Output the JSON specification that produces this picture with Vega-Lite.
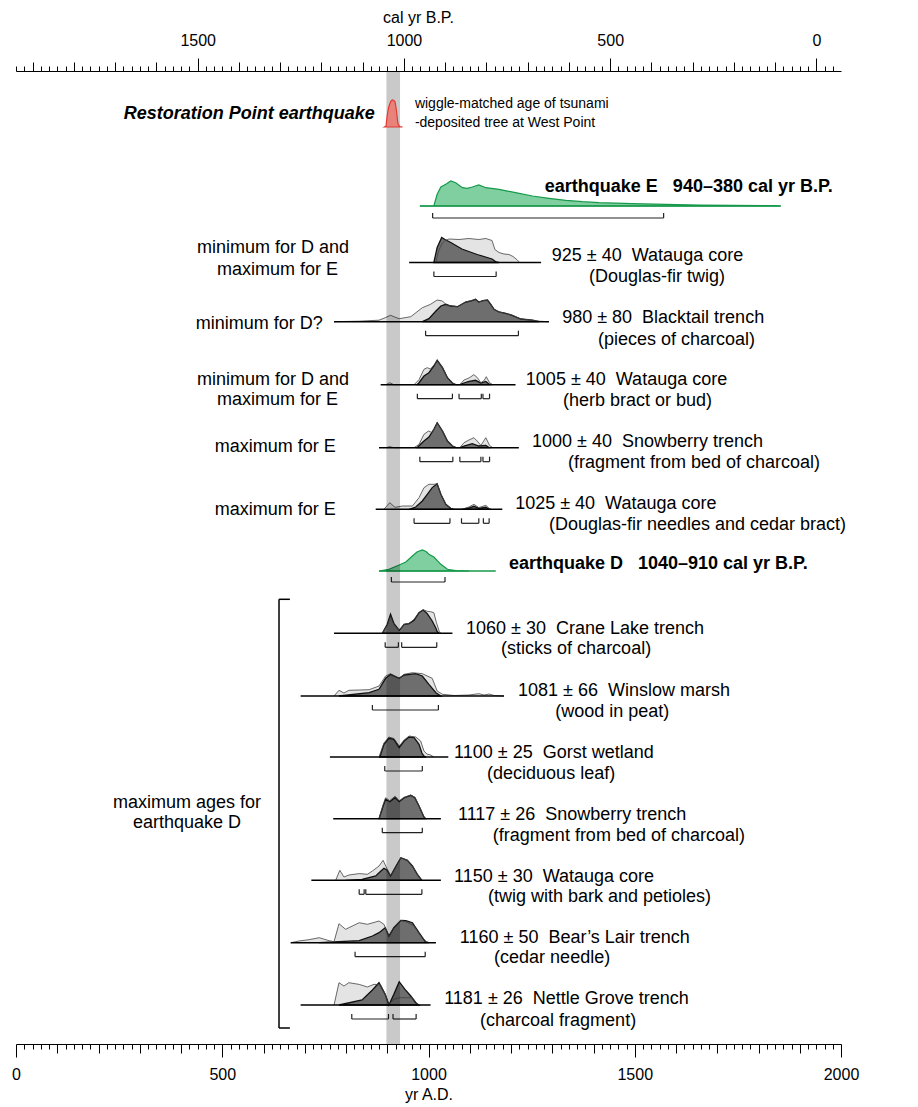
{
"$schema": "https://vega.github.io/schema/vega-lite/v6.json",
"background": "white",
"autosize": {"type": "pad"},
"padding": {"left": 11, "top": 9, "right": 5, "bottom": 2},
"spacing": 0,
"bounds": "flush",
"resolve": {"scale": {"x": "independent", "y": "independent"}},
"config": {
  "view": {"stroke": null},
  "text": {"font": "Liberation Sans", "fontSize": 18, "align": "left", "baseline": "middle", "color": "#000"}
},
"datasets": {
"curves": [
{"row":"R0","kind":"red","ad":893,"p":0},{"row":"R0","kind":"red","ad":897,"p":1},{"row":"R0","kind":"red","ad":900,"p":12},{"row":"R0","kind":"red","ad":903,"p":19},{"row":"R0","kind":"red","ad":906,"p":23},{"row":"R0","kind":"red","ad":909,"p":26},{"row":"R0","kind":"red","ad":912,"p":27},{"row":"R0","kind":"red","ad":916,"p":26.5},{"row":"R0","kind":"red","ad":919,"p":25},{"row":"R0","kind":"red","ad":921,"p":20},{"row":"R0","kind":"red","ad":923,"p":14},{"row":"R0","kind":"red","ad":925,"p":6},{"row":"R0","kind":"red","ad":927,"p":2},{"row":"R0","kind":"red","ad":930,"p":0.5},{"row":"R0","kind":"red","ad":937,"p":0},
{"row":"R1","kind":"green","ad":979,"p":0},{"row":"R1","kind":"green","ad":1013,"p":0},{"row":"R1","kind":"green","ad":1021,"p":11.7},{"row":"R1","kind":"green","ad":1030,"p":19},{"row":"R1","kind":"green","ad":1042,"p":21.7},{"row":"R1","kind":"green","ad":1054,"p":25},{"row":"R1","kind":"green","ad":1066,"p":23.3},{"row":"R1","kind":"green","ad":1082,"p":18.3},{"row":"R1","kind":"green","ad":1094,"p":17.7},{"row":"R1","kind":"green","ad":1106,"p":19},{"row":"R1","kind":"green","ad":1122,"p":21},{"row":"R1","kind":"green","ad":1139,"p":18.3},{"row":"R1","kind":"green","ad":1171,"p":16.7},{"row":"R1","kind":"green","ad":1211,"p":13.3},{"row":"R1","kind":"green","ad":1252,"p":10},{"row":"R1","kind":"green","ad":1292,"p":7.7},{"row":"R1","kind":"green","ad":1333,"p":5.7},{"row":"R1","kind":"green","ad":1373,"p":4.3},{"row":"R1","kind":"green","ad":1413,"p":3.3},{"row":"R1","kind":"green","ad":1494,"p":2.3},{"row":"R1","kind":"green","ad":1575,"p":1.7},{"row":"R1","kind":"green","ad":1656,"p":1},{"row":"R1","kind":"green","ad":1737,"p":0.7},{"row":"R1","kind":"green","ad":1838,"p":0.3},{"row":"R1","kind":"green","ad":1854,"p":0},
{"row":"R2","kind":"dark","ad":1013,"p":0},{"row":"R2","kind":"dark","ad":1021,"p":15},{"row":"R2","kind":"dark","ad":1032,"p":25},{"row":"R2","kind":"dark","ad":1040,"p":23},{"row":"R2","kind":"dark","ad":1054,"p":20},{"row":"R2","kind":"dark","ad":1081,"p":13.5},{"row":"R2","kind":"dark","ad":1118,"p":8},{"row":"R2","kind":"dark","ad":1154,"p":3.5},{"row":"R2","kind":"dark","ad":1164,"p":0.5},{"row":"R2","kind":"dark","ad":1171,"p":0},
{"row":"R2","kind":"light","ad":1018,"p":0},{"row":"R2","kind":"light","ad":1025,"p":12},{"row":"R2","kind":"light","ad":1033,"p":19},{"row":"R2","kind":"light","ad":1040,"p":22},{"row":"R2","kind":"light","ad":1050,"p":23.5},{"row":"R2","kind":"light","ad":1074,"p":23},{"row":"R2","kind":"light","ad":1098,"p":24},{"row":"R2","kind":"light","ad":1122,"p":23},{"row":"R2","kind":"light","ad":1139,"p":24},{"row":"R2","kind":"light","ad":1154,"p":22},{"row":"R2","kind":"light","ad":1161,"p":13},{"row":"R2","kind":"light","ad":1171,"p":10},{"row":"R2","kind":"light","ad":1183,"p":8.5},{"row":"R2","kind":"light","ad":1195,"p":8},{"row":"R2","kind":"light","ad":1205,"p":6},{"row":"R2","kind":"light","ad":1214,"p":3},{"row":"R2","kind":"light","ad":1221,"p":0},
{"row":"R3","kind":"light","ad":771,"p":0},{"row":"R3","kind":"light","ad":832,"p":0.5},{"row":"R3","kind":"light","ad":880,"p":1.5},{"row":"R3","kind":"light","ad":895,"p":4},{"row":"R3","kind":"light","ad":908,"p":6.4},{"row":"R3","kind":"light","ad":919,"p":4.5},{"row":"R3","kind":"light","ad":929,"p":3},{"row":"R3","kind":"light","ad":957,"p":5},{"row":"R3","kind":"light","ad":985,"p":14},{"row":"R3","kind":"light","ad":1005,"p":17.4},{"row":"R3","kind":"light","ad":1021,"p":21.7},{"row":"R3","kind":"light","ad":1034,"p":20.7},{"row":"R3","kind":"light","ad":1046,"p":15.7},{"row":"R3","kind":"light","ad":1054,"p":16},{"row":"R3","kind":"light","ad":1070,"p":15},{"row":"R3","kind":"light","ad":1090,"p":19.7},{"row":"R3","kind":"light","ad":1102,"p":20.7},{"row":"R3","kind":"light","ad":1114,"p":22.4},{"row":"R3","kind":"light","ad":1122,"p":19.7},{"row":"R3","kind":"light","ad":1132,"p":21},{"row":"R3","kind":"light","ad":1143,"p":21.7},{"row":"R3","kind":"light","ad":1151,"p":17.4},{"row":"R3","kind":"light","ad":1159,"p":12.4},{"row":"R3","kind":"light","ad":1171,"p":9.7},{"row":"R3","kind":"light","ad":1187,"p":8.4},{"row":"R3","kind":"light","ad":1203,"p":6.4},{"row":"R3","kind":"light","ad":1224,"p":2.7},{"row":"R3","kind":"light","ad":1252,"p":1.5},{"row":"R3","kind":"light","ad":1268,"p":0.5},{"row":"R3","kind":"light","ad":1292,"p":0},
{"row":"R3","kind":"dark","ad":985,"p":0},{"row":"R3","kind":"dark","ad":1001,"p":3},{"row":"R3","kind":"dark","ad":1018,"p":10.7},{"row":"R3","kind":"dark","ad":1030,"p":15.7},{"row":"R3","kind":"dark","ad":1042,"p":17.4},{"row":"R3","kind":"dark","ad":1054,"p":15.7},{"row":"R3","kind":"dark","ad":1070,"p":15},{"row":"R3","kind":"dark","ad":1090,"p":19.7},{"row":"R3","kind":"dark","ad":1102,"p":20.7},{"row":"R3","kind":"dark","ad":1114,"p":22.4},{"row":"R3","kind":"dark","ad":1122,"p":19.7},{"row":"R3","kind":"dark","ad":1132,"p":21},{"row":"R3","kind":"dark","ad":1143,"p":21.7},{"row":"R3","kind":"dark","ad":1151,"p":17.4},{"row":"R3","kind":"dark","ad":1159,"p":12.4},{"row":"R3","kind":"dark","ad":1171,"p":9.7},{"row":"R3","kind":"dark","ad":1187,"p":8.4},{"row":"R3","kind":"dark","ad":1203,"p":6.4},{"row":"R3","kind":"dark","ad":1224,"p":2.7},{"row":"R3","kind":"dark","ad":1252,"p":1.5},{"row":"R3","kind":"dark","ad":1268,"p":0},
{"row":"R4","kind":"light","ad":897,"p":0},{"row":"R4","kind":"light","ad":906,"p":2},{"row":"R4","kind":"light","ad":916,"p":0},{"row":"R4","kind":"light","ad":965,"p":0},{"row":"R4","kind":"light","ad":977,"p":5},{"row":"R4","kind":"light","ad":989,"p":15.4},{"row":"R4","kind":"light","ad":997,"p":17},{"row":"R4","kind":"light","ad":1005,"p":15.7},{"row":"R4","kind":"light","ad":1018,"p":22},{"row":"R4","kind":"light","ad":1021,"p":24.4},{"row":"R4","kind":"light","ad":1034,"p":17},{"row":"R4","kind":"light","ad":1046,"p":7},{"row":"R4","kind":"light","ad":1058,"p":1.7},{"row":"R4","kind":"light","ad":1066,"p":0},{"row":"R4","kind":"light","ad":1076,"p":0},{"row":"R4","kind":"light","ad":1086,"p":4.7},{"row":"R4","kind":"light","ad":1098,"p":6.7},{"row":"R4","kind":"light","ad":1110,"p":10},{"row":"R4","kind":"light","ad":1118,"p":7.3},{"row":"R4","kind":"light","ad":1127,"p":2},{"row":"R4","kind":"light","ad":1135,"p":4.3},{"row":"R4","kind":"light","ad":1140,"p":8},{"row":"R4","kind":"light","ad":1148,"p":2},{"row":"R4","kind":"light","ad":1156,"p":0},
{"row":"R4","kind":"dark","ad":972,"p":0},{"row":"R4","kind":"dark","ad":977,"p":2},{"row":"R4","kind":"dark","ad":989,"p":8.7},{"row":"R4","kind":"dark","ad":1001,"p":12},{"row":"R4","kind":"dark","ad":1013,"p":18.7},{"row":"R4","kind":"dark","ad":1021,"p":24.4},{"row":"R4","kind":"dark","ad":1034,"p":17},{"row":"R4","kind":"dark","ad":1046,"p":7},{"row":"R4","kind":"dark","ad":1058,"p":1.7},{"row":"R4","kind":"dark","ad":1066,"p":0},{"row":"R4","kind":"dark","ad":1076,"p":0},{"row":"R4","kind":"dark","ad":1086,"p":1.7},{"row":"R4","kind":"dark","ad":1098,"p":3.3},{"row":"R4","kind":"dark","ad":1114,"p":4.4},{"row":"R4","kind":"dark","ad":1127,"p":1.7},{"row":"R4","kind":"dark","ad":1139,"p":3.3},{"row":"R4","kind":"dark","ad":1147,"p":0.5},{"row":"R4","kind":"dark","ad":1152,"p":0},
{"row":"R5","kind":"light","ad":897,"p":0},{"row":"R5","kind":"light","ad":906,"p":1},{"row":"R5","kind":"light","ad":916,"p":0},{"row":"R5","kind":"light","ad":965,"p":0},{"row":"R5","kind":"light","ad":977,"p":3.3},{"row":"R5","kind":"light","ad":989,"p":13.4},{"row":"R5","kind":"light","ad":1000,"p":16.7},{"row":"R5","kind":"light","ad":1009,"p":15},{"row":"R5","kind":"light","ad":1018,"p":21.7},{"row":"R5","kind":"light","ad":1021,"p":25},{"row":"R5","kind":"light","ad":1034,"p":16.7},{"row":"R5","kind":"light","ad":1046,"p":6.7},{"row":"R5","kind":"light","ad":1058,"p":1.7},{"row":"R5","kind":"light","ad":1067,"p":0},{"row":"R5","kind":"light","ad":1076,"p":0},{"row":"R5","kind":"light","ad":1086,"p":5},{"row":"R5","kind":"light","ad":1098,"p":7.7},{"row":"R5","kind":"light","ad":1110,"p":10},{"row":"R5","kind":"light","ad":1118,"p":6.7},{"row":"R5","kind":"light","ad":1127,"p":2.3},{"row":"R5","kind":"light","ad":1139,"p":10},{"row":"R5","kind":"light","ad":1148,"p":2.3},{"row":"R5","kind":"light","ad":1156,"p":0},
{"row":"R5","kind":"dark","ad":972,"p":0},{"row":"R5","kind":"dark","ad":989,"p":6.7},{"row":"R5","kind":"dark","ad":1001,"p":10.7},{"row":"R5","kind":"dark","ad":1013,"p":18.4},{"row":"R5","kind":"dark","ad":1021,"p":25},{"row":"R5","kind":"dark","ad":1034,"p":16.7},{"row":"R5","kind":"dark","ad":1046,"p":6.7},{"row":"R5","kind":"dark","ad":1058,"p":1.7},{"row":"R5","kind":"dark","ad":1067,"p":0},{"row":"R5","kind":"dark","ad":1076,"p":0},{"row":"R5","kind":"dark","ad":1086,"p":1.7},{"row":"R5","kind":"dark","ad":1106,"p":4},{"row":"R5","kind":"dark","ad":1122,"p":1.7},{"row":"R5","kind":"dark","ad":1139,"p":2.3},{"row":"R5","kind":"dark","ad":1147,"p":0},
{"row":"R6","kind":"light","ad":892,"p":0},{"row":"R6","kind":"light","ad":906,"p":6.6},{"row":"R6","kind":"light","ad":919,"p":2},{"row":"R6","kind":"light","ad":937,"p":3.3},{"row":"R6","kind":"light","ad":961,"p":3.3},{"row":"R6","kind":"light","ad":977,"p":11.6},{"row":"R6","kind":"light","ad":989,"p":21.6},{"row":"R6","kind":"light","ad":1001,"p":25},{"row":"R6","kind":"light","ad":1013,"p":25},{"row":"R6","kind":"light","ad":1021,"p":25.6},{"row":"R6","kind":"light","ad":1030,"p":15},{"row":"R6","kind":"light","ad":1042,"p":5},{"row":"R6","kind":"light","ad":1054,"p":1},{"row":"R6","kind":"light","ad":1062,"p":0},{"row":"R6","kind":"light","ad":1081,"p":0},{"row":"R6","kind":"light","ad":1098,"p":2.3},{"row":"R6","kind":"light","ad":1110,"p":5},{"row":"R6","kind":"light","ad":1122,"p":1.7},{"row":"R6","kind":"light","ad":1139,"p":4},{"row":"R6","kind":"light","ad":1147,"p":1},{"row":"R6","kind":"light","ad":1152,"p":0},
{"row":"R6","kind":"dark","ad":953,"p":0},{"row":"R6","kind":"dark","ad":969,"p":2.3},{"row":"R6","kind":"dark","ad":985,"p":8.3},{"row":"R6","kind":"dark","ad":997,"p":15},{"row":"R6","kind":"dark","ad":1009,"p":21.7},{"row":"R6","kind":"dark","ad":1021,"p":25.6},{"row":"R6","kind":"dark","ad":1030,"p":15},{"row":"R6","kind":"dark","ad":1042,"p":5},{"row":"R6","kind":"dark","ad":1054,"p":1},{"row":"R6","kind":"dark","ad":1062,"p":0},{"row":"R6","kind":"dark","ad":1081,"p":0},{"row":"R6","kind":"dark","ad":1098,"p":1.3},{"row":"R6","kind":"dark","ad":1110,"p":3},{"row":"R6","kind":"dark","ad":1122,"p":1},{"row":"R6","kind":"dark","ad":1139,"p":2},{"row":"R6","kind":"dark","ad":1147,"p":0},
{"row":"R7","kind":"green","ad":880,"p":0},{"row":"R7","kind":"green","ad":904,"p":1.7},{"row":"R7","kind":"green","ad":929,"p":6},{"row":"R7","kind":"green","ad":945,"p":9},{"row":"R7","kind":"green","ad":961,"p":15},{"row":"R7","kind":"green","ad":972,"p":19},{"row":"R7","kind":"green","ad":985,"p":21},{"row":"R7","kind":"green","ad":994,"p":19.5},{"row":"R7","kind":"green","ad":1001,"p":16.7},{"row":"R7","kind":"green","ad":1013,"p":14},{"row":"R7","kind":"green","ad":1030,"p":6.7},{"row":"R7","kind":"green","ad":1046,"p":1.7},{"row":"R7","kind":"green","ad":1066,"p":0.3},{"row":"R7","kind":"green","ad":1098,"p":0},
{"row":"R8","kind":"dark","ad":888,"p":0},{"row":"R8","kind":"dark","ad":900,"p":9},{"row":"R8","kind":"dark","ad":908,"p":19},{"row":"R8","kind":"dark","ad":916,"p":10},{"row":"R8","kind":"dark","ad":929,"p":3},{"row":"R8","kind":"dark","ad":941,"p":9},{"row":"R8","kind":"dark","ad":953,"p":9.7},{"row":"R8","kind":"dark","ad":965,"p":13},{"row":"R8","kind":"dark","ad":977,"p":20.6},{"row":"R8","kind":"dark","ad":987,"p":23.3},{"row":"R8","kind":"dark","ad":997,"p":19.7},{"row":"R8","kind":"dark","ad":1009,"p":12.3},{"row":"R8","kind":"dark","ad":1018,"p":5},{"row":"R8","kind":"dark","ad":1021,"p":1.7},{"row":"R8","kind":"dark","ad":1026,"p":0},
{"row":"R8","kind":"light","ad":888,"p":0},{"row":"R8","kind":"light","ad":900,"p":8},{"row":"R8","kind":"light","ad":908,"p":17},{"row":"R8","kind":"light","ad":916,"p":9},{"row":"R8","kind":"light","ad":929,"p":3},{"row":"R8","kind":"light","ad":941,"p":9},{"row":"R8","kind":"light","ad":953,"p":10},{"row":"R8","kind":"light","ad":965,"p":14},{"row":"R8","kind":"light","ad":977,"p":21},{"row":"R8","kind":"light","ad":987,"p":23.6},{"row":"R8","kind":"light","ad":997,"p":22},{"row":"R8","kind":"light","ad":1005,"p":21.6},{"row":"R8","kind":"light","ad":1013,"p":20.6},{"row":"R8","kind":"light","ad":1019,"p":11},{"row":"R8","kind":"light","ad":1026,"p":2},{"row":"R8","kind":"light","ad":1030,"p":0},
{"row":"R9","kind":"light","ad":771,"p":0},{"row":"R9","kind":"light","ad":783,"p":5.7},{"row":"R9","kind":"light","ad":795,"p":3},{"row":"R9","kind":"light","ad":807,"p":5.7},{"row":"R9","kind":"light","ad":832,"p":6},{"row":"R9","kind":"light","ad":856,"p":6.3},{"row":"R9","kind":"light","ad":880,"p":10},{"row":"R9","kind":"light","ad":896,"p":20},{"row":"R9","kind":"light","ad":908,"p":22.3},{"row":"R9","kind":"light","ad":929,"p":17.7},{"row":"R9","kind":"light","ad":941,"p":21.7},{"row":"R9","kind":"light","ad":961,"p":23.3},{"row":"R9","kind":"light","ad":985,"p":22.3},{"row":"R9","kind":"light","ad":1009,"p":17.7},{"row":"R9","kind":"light","ad":1021,"p":5},{"row":"R9","kind":"light","ad":1034,"p":1.7},{"row":"R9","kind":"light","ad":1062,"p":0.5},{"row":"R9","kind":"light","ad":1098,"p":1},{"row":"R9","kind":"light","ad":1122,"p":2.3},{"row":"R9","kind":"light","ad":1135,"p":1},{"row":"R9","kind":"light","ad":1147,"p":2},{"row":"R9","kind":"light","ad":1159,"p":0.5},{"row":"R9","kind":"light","ad":1183,"p":0},
{"row":"R9","kind":"dark","ad":783,"p":0},{"row":"R9","kind":"dark","ad":856,"p":3.3},{"row":"R9","kind":"dark","ad":880,"p":6.7},{"row":"R9","kind":"dark","ad":896,"p":17.7},{"row":"R9","kind":"dark","ad":908,"p":21.6},{"row":"R9","kind":"dark","ad":929,"p":17.7},{"row":"R9","kind":"dark","ad":941,"p":21},{"row":"R9","kind":"dark","ad":969,"p":22.3},{"row":"R9","kind":"dark","ad":985,"p":20},{"row":"R9","kind":"dark","ad":1001,"p":11.6},{"row":"R9","kind":"dark","ad":1018,"p":3.3},{"row":"R9","kind":"dark","ad":1030,"p":0},
{"row":"R10","kind":"dark","ad":882,"p":0},{"row":"R10","kind":"dark","ad":892,"p":12.7},{"row":"R10","kind":"dark","ad":904,"p":18.7},{"row":"R10","kind":"dark","ad":916,"p":17.7},{"row":"R10","kind":"dark","ad":929,"p":9.3},{"row":"R10","kind":"dark","ad":941,"p":16},{"row":"R10","kind":"dark","ad":953,"p":20},{"row":"R10","kind":"dark","ad":965,"p":19.3},{"row":"R10","kind":"dark","ad":977,"p":12.7},{"row":"R10","kind":"dark","ad":984,"p":4},{"row":"R10","kind":"dark","ad":989,"p":1},{"row":"R10","kind":"dark","ad":994,"p":0},
{"row":"R10","kind":"light","ad":880,"p":0},{"row":"R10","kind":"light","ad":892,"p":14},{"row":"R10","kind":"light","ad":904,"p":20},{"row":"R10","kind":"light","ad":916,"p":18.5},{"row":"R10","kind":"light","ad":929,"p":11},{"row":"R10","kind":"light","ad":941,"p":17},{"row":"R10","kind":"light","ad":953,"p":21},{"row":"R10","kind":"light","ad":969,"p":20},{"row":"R10","kind":"light","ad":981,"p":16},{"row":"R10","kind":"light","ad":989,"p":6},{"row":"R10","kind":"light","ad":996,"p":3},{"row":"R10","kind":"light","ad":1005,"p":2},{"row":"R10","kind":"light","ad":1013,"p":0},
{"row":"R11","kind":"dark","ad":880,"p":0},{"row":"R11","kind":"dark","ad":890,"p":12.7},{"row":"R11","kind":"dark","ad":896,"p":19.4},{"row":"R11","kind":"dark","ad":906,"p":17},{"row":"R11","kind":"dark","ad":919,"p":21},{"row":"R11","kind":"dark","ad":929,"p":17},{"row":"R11","kind":"dark","ad":941,"p":21},{"row":"R11","kind":"dark","ad":957,"p":23.4},{"row":"R11","kind":"dark","ad":967,"p":21},{"row":"R11","kind":"dark","ad":977,"p":12.7},{"row":"R11","kind":"dark","ad":989,"p":1.7},{"row":"R11","kind":"dark","ad":993,"p":0},
{"row":"R11","kind":"light","ad":880,"p":0},{"row":"R11","kind":"light","ad":890,"p":14},{"row":"R11","kind":"light","ad":896,"p":21},{"row":"R11","kind":"light","ad":906,"p":18},{"row":"R11","kind":"light","ad":919,"p":22.5},{"row":"R11","kind":"light","ad":929,"p":18},{"row":"R11","kind":"light","ad":941,"p":21.5},{"row":"R11","kind":"light","ad":957,"p":23.6},{"row":"R11","kind":"light","ad":967,"p":21.5},{"row":"R11","kind":"light","ad":977,"p":13},{"row":"R11","kind":"light","ad":989,"p":2},{"row":"R11","kind":"light","ad":994,"p":0},
{"row":"R12","kind":"light","ad":775,"p":0},{"row":"R12","kind":"light","ad":785,"p":10},{"row":"R12","kind":"light","ad":795,"p":3.3},{"row":"R12","kind":"light","ad":807,"p":5.3},{"row":"R12","kind":"light","ad":832,"p":6.7},{"row":"R12","kind":"light","ad":852,"p":6},{"row":"R12","kind":"light","ad":864,"p":9.3},{"row":"R12","kind":"light","ad":880,"p":14.3},{"row":"R12","kind":"light","ad":890,"p":20},{"row":"R12","kind":"light","ad":900,"p":11},{"row":"R12","kind":"light","ad":908,"p":4.3},{"row":"R12","kind":"light","ad":920,"p":13},{"row":"R12","kind":"light","ad":933,"p":22.6},{"row":"R12","kind":"light","ad":949,"p":20},{"row":"R12","kind":"light","ad":961,"p":14.3},{"row":"R12","kind":"light","ad":973,"p":6},{"row":"R12","kind":"light","ad":984,"p":0},
{"row":"R12","kind":"dark","ad":799,"p":0},{"row":"R12","kind":"dark","ad":839,"p":1},{"row":"R12","kind":"dark","ad":872,"p":4.3},{"row":"R12","kind":"dark","ad":884,"p":9},{"row":"R12","kind":"dark","ad":892,"p":12},{"row":"R12","kind":"dark","ad":900,"p":10},{"row":"R12","kind":"dark","ad":908,"p":4.3},{"row":"R12","kind":"dark","ad":920,"p":13.3},{"row":"R12","kind":"dark","ad":933,"p":22.6},{"row":"R12","kind":"dark","ad":949,"p":20},{"row":"R12","kind":"dark","ad":961,"p":14.3},{"row":"R12","kind":"dark","ad":973,"p":6},{"row":"R12","kind":"dark","ad":984,"p":0},
{"row":"R13","kind":"light","ad":666,"p":0},{"row":"R13","kind":"light","ad":686,"p":1.7},{"row":"R13","kind":"light","ad":710,"p":3},{"row":"R13","kind":"light","ad":735,"p":5},{"row":"R13","kind":"light","ad":759,"p":2},{"row":"R13","kind":"light","ad":771,"p":1},{"row":"R13","kind":"light","ad":783,"p":19},{"row":"R13","kind":"light","ad":799,"p":13.4},{"row":"R13","kind":"light","ad":832,"p":20},{"row":"R13","kind":"light","ad":852,"p":18.4},{"row":"R13","kind":"light","ad":880,"p":21.7},{"row":"R13","kind":"light","ad":892,"p":18.4},{"row":"R13","kind":"light","ad":904,"p":6.7},{"row":"R13","kind":"light","ad":916,"p":15},{"row":"R13","kind":"light","ad":933,"p":22.4},{"row":"R13","kind":"light","ad":948,"p":20.5},{"row":"R13","kind":"light","ad":965,"p":16.7},{"row":"R13","kind":"light","ad":981,"p":6.7},{"row":"R13","kind":"light","ad":993,"p":1.7},{"row":"R13","kind":"light","ad":1001,"p":0},
{"row":"R13","kind":"dark","ad":735,"p":0},{"row":"R13","kind":"dark","ad":783,"p":1},{"row":"R13","kind":"dark","ad":832,"p":2},{"row":"R13","kind":"dark","ad":864,"p":6.7},{"row":"R13","kind":"dark","ad":880,"p":10},{"row":"R13","kind":"dark","ad":895,"p":15},{"row":"R13","kind":"dark","ad":904,"p":6.7},{"row":"R13","kind":"dark","ad":916,"p":15},{"row":"R13","kind":"dark","ad":933,"p":22.4},{"row":"R13","kind":"dark","ad":945,"p":22},{"row":"R13","kind":"dark","ad":961,"p":20},{"row":"R13","kind":"dark","ad":977,"p":10},{"row":"R13","kind":"dark","ad":993,"p":0.5},{"row":"R13","kind":"dark","ad":1001,"p":0},
{"row":"R14","kind":"light","ad":771,"p":0},{"row":"R14","kind":"light","ad":783,"p":22.3},{"row":"R14","kind":"light","ad":795,"p":19},{"row":"R14","kind":"light","ad":807,"p":22.3},{"row":"R14","kind":"light","ad":832,"p":20.6},{"row":"R14","kind":"light","ad":852,"p":18},{"row":"R14","kind":"light","ad":868,"p":20.7},{"row":"R14","kind":"light","ad":884,"p":20},{"row":"R14","kind":"light","ad":895,"p":11},{"row":"R14","kind":"light","ad":904,"p":0.7},{"row":"R14","kind":"light","ad":916,"p":5.7},{"row":"R14","kind":"light","ad":929,"p":7.3},{"row":"R14","kind":"light","ad":961,"p":7.3},{"row":"R14","kind":"light","ad":973,"p":1},{"row":"R14","kind":"light","ad":977,"p":0},
{"row":"R14","kind":"dark","ad":783,"p":0},{"row":"R14","kind":"dark","ad":839,"p":5},{"row":"R14","kind":"dark","ad":864,"p":15},{"row":"R14","kind":"dark","ad":880,"p":22.3},{"row":"R14","kind":"dark","ad":895,"p":10.7},{"row":"R14","kind":"dark","ad":904,"p":0},{"row":"R14","kind":"dark","ad":916,"p":10.7},{"row":"R14","kind":"dark","ad":929,"p":23.3},{"row":"R14","kind":"dark","ad":943,"p":15.7},{"row":"R14","kind":"dark","ad":957,"p":9},{"row":"R14","kind":"dark","ad":969,"p":2.3},{"row":"R14","kind":"dark","ad":977,"p":0}
],
"lines": [
{"row":"R1","s":979,"e":1854},{"row":"R2","s":953,"e":1273},{"row":"R3","s":771,"e":1292},{"row":"R4","s":884,"e":1211},{"row":"R5","s":880,"e":1219},{"row":"R6","s":872,"e":1179},{"row":"R7","s":880,"e":1163},{"row":"R8","s":771,"e":1058},{"row":"R9","s":690,"e":1183},{"row":"R10","s":761,"e":1048},{"row":"R11","s":769,"e":1030},{"row":"R12","s":716,"e":1030},{"row":"R13","s":666,"e":1018},{"row":"R14","s":690,"e":1005}
],
"brackets": [
{"row":"R1","s":1010,"e":1570},{"row":"R2","s":1013,"e":1164},{"row":"R3","s":993,"e":1218},
{"row":"R4","s":973,"e":1058},{"row":"R4","s":1074,"e":1128},{"row":"R4","s":1132,"e":1148},
{"row":"R5","s":979,"e":1059},{"row":"R5","s":1076,"e":1127},{"row":"R5","s":1132,"e":1148},
{"row":"R6","s":965,"e":1052},{"row":"R6","s":1080,"e":1122},{"row":"R6","s":1133,"e":1147},
{"row":"R7","s":910,"e":1040},{"row":"R8","s":895,"e":927},{"row":"R8","s":935,"e":1020},
{"row":"R9","s":864,"e":1024},{"row":"R10","s":894,"e":985},{"row":"R11","s":888,"e":985},
{"row":"R12","s":832,"e":844},{"row":"R12","s":848,"e":984},{"row":"R13","s":822,"e":992},
{"row":"R14","s":814,"e":903},{"row":"R14","s":914,"e":970}
]
},
"vconcat": [
{"width": 825, "height": 76, "resolve": {"scale": {"x": "independent"}},
 "layer": [
  {"data": {"values": [{}]}, "layer": [
    {"mark": {"type": "rect", "fill": "#000", "opacity": 0.21}, "encoding": {"x": {"datum": 898, "type": "quantitative", "scale": {"domain": [0, 2000], "nice": false, "zero": false}, "axis": null}, "x2": {"datum": 931}}},
    {"data": {"name": "curves"}, "transform": [{"filter": "datum.row === 'R0'"}], "mark": {"type": "area", "fill": "#e8837c", "stroke": "#e23a30", "strokeWidth": 1.2}, "encoding": {"x": {"field": "ad", "type": "quantitative", "scale": {"domain": [0, 2000], "nice": false, "zero": false}, "axis": null}, "y": {"field": "p", "type": "quantitative", "stack": null, "scale": {"domain": [-20, 56], "nice": false, "zero": false}, "axis": null}, "y2": {"datum": 0}}},
    {"mark": {"type": "text", "align": "right", "fontWeight": "bold", "fontStyle": "italic", "fontSize": 18}, "encoding": {"x": {"datum": 870, "type": "quantitative", "axis": null}, "y": {"datum": 13, "type": "quantitative", "axis": null}, "text": {"value": "Restoration Point earthquake"}}},
    {"mark": {"type": "text", "fontSize": 14}, "encoding": {"x": {"datum": 967, "type": "quantitative", "axis": null}, "y": {"datum": 23, "type": "quantitative", "axis": null}, "text": {"value": "wiggle-matched age of tsunami"}}},
    {"mark": {"type": "text", "fontSize": 14}, "encoding": {"x": {"datum": 967, "type": "quantitative", "axis": null}, "y": {"datum": 4, "type": "quantitative", "axis": null}, "text": {"value": "-deposited tree at West Point"}}}
  ]},
  {"data": {"values": [{}]}, "mark": {"type": "rule", "opacity": 0}, "encoding": {"x": {"datum": 1000, "type": "quantitative", "scale": {"domain": [1940.5, -59.5], "nice": false, "zero": false}, "axis": {"orient": "top", "title": "cal yr B.P.", "titleX": 402, "titleAlign": "center", "values": [-40,-20,0,20,40,60,80,100,120,140,160,180,200,220,240,260,280,300,320,340,360,380,400,420,440,460,480,500,520,540,560,580,600,620,640,660,680,700,720,740,760,780,800,820,840,860,880,900,920,940,960,980,1000,1020,1040,1060,1080,1100,1120,1140,1160,1180,1200,1220,1240,1260,1280,1300,1320,1340,1360,1380,1400,1420,1440,1460,1480,1500,1520,1540,1560,1580,1600,1620,1640,1660,1680,1700,1720,1740,1760,1780,1800,1820,1840,1860,1880,1900,1920,1940], "format": "d", "labelExpr": "datum.value % 500 === 0 ? datum.label : ''", "labelOverlap": false, "labelFlush": false, "labelFont": "Liberation Sans", "labelFontSize": 16, "labelColor": "#000", "labelPadding": 9.5, "titleFont": "Liberation Sans", "titleFontSize": 16, "titleFontWeight": "normal", "titleColor": "#000", "titlePadding": 7, "domainColor": "#000", "tickColor": "#000", "tickWidth": 1, "tickSize": {"condition": [{"test": "datum.value % 500 === 0", "value": 13}, {"test": "datum.value % 100 === 0", "value": 9}], "value": 5}, "grid": false}}}}
 ]},

{"width": 825, "height": 79, "data": {"values": [{}]},
 "layer": [
  {"data": {"name": "curves"}, "transform": [{"filter": "datum.row === 'R1'"}], "mark": {"type": "area", "fill": "#80cfa0", "stroke": "#16994a", "strokeWidth": 1.2}, "encoding": {"x": {"field": "ad", "type": "quantitative", "scale": {"domain": [0, 2000], "nice": false, "zero": false}, "axis": null}, "y": {"field": "p", "type": "quantitative", "stack": null, "scale": {"domain": [-20, 59], "nice": false, "zero": false}, "axis": null}, "y2": {"datum": 0}}},
  {"data": {"name": "lines"}, "transform": [{"filter": "datum.row === 'R1'"}], "mark": {"type": "rule", "stroke": "#16994a", "strokeWidth": 1.5}, "encoding": {"x": {"field": "s", "type": "quantitative", "axis": null}, "x2": {"field": "e"}, "y": {"datum": 0, "type": "quantitative", "axis": null}}},
  {"data": {"name": "brackets"}, "transform": [{"filter": "datum.row === 'R1'"}], "encoding": {"y": {"datum": -12, "type": "quantitative", "axis": null}}, "layer": [
    {"mark": {"type": "rule", "stroke": "#222", "strokeWidth": 1.2}, "encoding": {"x": {"field": "s", "type": "quantitative", "axis": null}, "x2": {"field": "e"}}},
    {"mark": {"type": "rule", "stroke": "#222", "strokeWidth": 1.2}, "encoding": {"x": {"field": "s", "type": "quantitative", "axis": null}, "y2": {"datum": -7}}},
    {"mark": {"type": "rule", "stroke": "#222", "strokeWidth": 1.2}, "encoding": {"x": {"field": "e", "type": "quantitative", "axis": null}, "y2": {"datum": -7}}}
  ]},
  {"mark": {"type": "rect", "fill": "#000", "opacity": 0.21}, "encoding": {"x": {"datum": 898, "type": "quantitative", "axis": null}, "x2": {"datum": 931}}},
  {"mark": {"type": "text", "fontWeight": "bold"}, "encoding": {"x": {"datum": 1282, "type": "quantitative", "axis": null}, "y": {"datum": 19, "type": "quantitative", "axis": null}, "text": {"value": "earthquake E\u00a0\u00a0 940–380 cal yr B.P."}}}
 ]},

{"width": 825, "height": 57, "data": {"values": [{}]},
 "layer": [
  {"data": {"name": "curves"}, "transform": [{"filter": "datum.row === 'R2'"}], "encoding": {"x": {"field": "ad", "type": "quantitative", "scale": {"domain": [0, 2000], "nice": false, "zero": false}, "axis": null}, "y": {"field": "p", "type": "quantitative", "stack": null, "scale": {"domain": [-20.5, 36.5], "nice": false, "zero": false}, "axis": null}}, "layer": [
    {"transform": [{"filter": "datum.kind === 'light'"}], "mark": {"type": "area", "fill": "#e4e4e4"}, "encoding": {"y2": {"datum": 0}}},
    {"transform": [{"filter": "datum.kind === 'dark'"}], "mark": {"type": "area", "fill": "#6e6e6e", "stroke": "#111", "strokeWidth": 1.3}, "encoding": {"y2": {"datum": 0}}},
    {"transform": [{"filter": "datum.kind === 'light'"}], "mark": {"type": "line", "stroke": "#444", "strokeWidth": 0.8}}
  ]},
  {"data": {"name": "lines"}, "transform": [{"filter": "datum.row === 'R2'"}], "mark": {"type": "rule", "stroke": "#000", "strokeWidth": 1.5}, "encoding": {"x": {"field": "s", "type": "quantitative", "axis": null}, "x2": {"field": "e"}, "y": {"datum": 0, "type": "quantitative", "axis": null}}},
  {"data": {"name": "brackets"}, "transform": [{"filter": "datum.row === 'R2'"}], "encoding": {"y": {"datum": -14, "type": "quantitative", "axis": null}}, "layer": [
    {"mark": {"type": "rule", "stroke": "#222", "strokeWidth": 1.2}, "encoding": {"x": {"field": "s", "type": "quantitative", "axis": null}, "x2": {"field": "e"}}},
    {"mark": {"type": "rule", "stroke": "#222", "strokeWidth": 1.2}, "encoding": {"x": {"field": "s", "type": "quantitative", "axis": null}, "y2": {"datum": -9}}},
    {"mark": {"type": "rule", "stroke": "#222", "strokeWidth": 1.2}, "encoding": {"x": {"field": "e", "type": "quantitative", "axis": null}, "y2": {"datum": -9}}}
  ]},
  {"mark": {"type": "rect", "fill": "#000", "opacity": 0.21}, "encoding": {"x": {"datum": 898, "type": "quantitative", "axis": null}, "x2": {"datum": 931}}},
  {"mark": {"type": "text"}, "encoding": {"x": {"datum": 439, "type": "quantitative", "axis": null}, "y": {"datum": 14.5, "type": "quantitative", "axis": null}, "text": {"value": "minimum for D and"}}},
  {"mark": {"type": "text"}, "encoding": {"x": {"datum": 487, "type": "quantitative", "axis": null}, "y": {"datum": -7.5, "type": "quantitative", "axis": null}, "text": {"value": "maximum for E"}}},
  {"mark": {"type": "text"}, "encoding": {"x": {"datum": 1299, "type": "quantitative", "axis": null}, "y": {"datum": 6.5, "type": "quantitative", "axis": null}, "text": {"value": "925 ± 40\u00a0 Watauga core"}}},
  {"mark": {"type": "text"}, "encoding": {"x": {"datum": 1389, "type": "quantitative", "axis": null}, "y": {"datum": -14.5, "type": "quantitative", "axis": null}, "text": {"value": "(Douglas-fir twig)"}}}
 ]},

{"width": 825, "height": 59, "data": {"values": [{}]},
 "layer": [
  {"data": {"name": "curves"}, "transform": [{"filter": "datum.row === 'R3'"}], "encoding": {"x": {"field": "ad", "type": "quantitative", "scale": {"domain": [0, 2000], "nice": false, "zero": false}, "axis": null}, "y": {"field": "p", "type": "quantitative", "stack": null, "scale": {"domain": [-20.3, 38.7], "nice": false, "zero": false}, "axis": null}}, "layer": [
    {"transform": [{"filter": "datum.kind === 'light'"}], "mark": {"type": "area", "fill": "#e4e4e4"}, "encoding": {"y2": {"datum": 0}}},
    {"transform": [{"filter": "datum.kind === 'dark'"}], "mark": {"type": "area", "fill": "#6e6e6e", "stroke": "#111", "strokeWidth": 1.3}, "encoding": {"y2": {"datum": 0}}},
    {"transform": [{"filter": "datum.kind === 'light'"}], "mark": {"type": "line", "stroke": "#444", "strokeWidth": 0.8}}
  ]},
  {"data": {"name": "lines"}, "transform": [{"filter": "datum.row === 'R3'"}], "mark": {"type": "rule", "stroke": "#000", "strokeWidth": 1.5}, "encoding": {"x": {"field": "s", "type": "quantitative", "axis": null}, "x2": {"field": "e"}, "y": {"datum": 0, "type": "quantitative", "axis": null}}},
  {"data": {"name": "brackets"}, "transform": [{"filter": "datum.row === 'R3'"}], "encoding": {"y": {"datum": -14, "type": "quantitative", "axis": null}}, "layer": [
    {"mark": {"type": "rule", "stroke": "#222", "strokeWidth": 1.2}, "encoding": {"x": {"field": "s", "type": "quantitative", "axis": null}, "x2": {"field": "e"}}},
    {"mark": {"type": "rule", "stroke": "#222", "strokeWidth": 1.2}, "encoding": {"x": {"field": "s", "type": "quantitative", "axis": null}, "y2": {"datum": -9}}},
    {"mark": {"type": "rule", "stroke": "#222", "strokeWidth": 1.2}, "encoding": {"x": {"field": "e", "type": "quantitative", "axis": null}, "y2": {"datum": -9}}}
  ]},
  {"mark": {"type": "rect", "fill": "#000", "opacity": 0.21}, "encoding": {"x": {"datum": 898, "type": "quantitative", "axis": null}, "x2": {"datum": 931}}},
  {"mark": {"type": "text"}, "encoding": {"x": {"datum": 436, "type": "quantitative", "axis": null}, "y": {"datum": -2.3, "type": "quantitative", "axis": null}, "text": {"value": "minimum for D?"}}},
  {"mark": {"type": "text"}, "encoding": {"x": {"datum": 1324, "type": "quantitative", "axis": null}, "y": {"datum": 3.7, "type": "quantitative", "axis": null}, "text": {"value": "980 ± 80\u00a0 Blacktail trench"}}},
  {"mark": {"type": "text"}, "encoding": {"x": {"datum": 1411, "type": "quantitative", "axis": null}, "y": {"datum": -18.3, "type": "quantitative", "axis": null}, "text": {"value": "(pieces of charcoal)"}}}
 ]},

{"width": 825, "height": 63, "data": {"values": [{}]},
 "layer": [
  {"data": {"name": "curves"}, "transform": [{"filter": "datum.row === 'R4'"}], "encoding": {"x": {"field": "ad", "type": "quantitative", "scale": {"domain": [0, 2000], "nice": false, "zero": false}, "axis": null}, "y": {"field": "p", "type": "quantitative", "stack": null, "scale": {"domain": [-20.3, 42.7], "nice": false, "zero": false}, "axis": null}}, "layer": [
    {"transform": [{"filter": "datum.kind === 'light'"}], "mark": {"type": "area", "fill": "#e4e4e4"}, "encoding": {"y2": {"datum": 0}}},
    {"transform": [{"filter": "datum.kind === 'dark'"}], "mark": {"type": "area", "fill": "#6e6e6e", "stroke": "#111", "strokeWidth": 1.3}, "encoding": {"y2": {"datum": 0}}},
    {"transform": [{"filter": "datum.kind === 'light'"}], "mark": {"type": "line", "stroke": "#444", "strokeWidth": 0.8}}
  ]},
  {"data": {"name": "lines"}, "transform": [{"filter": "datum.row === 'R4'"}], "mark": {"type": "rule", "stroke": "#000", "strokeWidth": 1.5}, "encoding": {"x": {"field": "s", "type": "quantitative", "axis": null}, "x2": {"field": "e"}, "y": {"datum": 0, "type": "quantitative", "axis": null}}},
  {"data": {"name": "brackets"}, "transform": [{"filter": "datum.row === 'R4'"}], "encoding": {"y": {"datum": -14, "type": "quantitative", "axis": null}}, "layer": [
    {"mark": {"type": "rule", "stroke": "#222", "strokeWidth": 1.2}, "encoding": {"x": {"field": "s", "type": "quantitative", "axis": null}, "x2": {"field": "e"}}},
    {"mark": {"type": "rule", "stroke": "#222", "strokeWidth": 1.2}, "encoding": {"x": {"field": "s", "type": "quantitative", "axis": null}, "y2": {"datum": -9}}},
    {"mark": {"type": "rule", "stroke": "#222", "strokeWidth": 1.2}, "encoding": {"x": {"field": "e", "type": "quantitative", "axis": null}, "y2": {"datum": -9}}}
  ]},
  {"mark": {"type": "rect", "fill": "#000", "opacity": 0.21}, "encoding": {"x": {"datum": 898, "type": "quantitative", "axis": null}, "x2": {"datum": 931}}},
  {"mark": {"type": "text"}, "encoding": {"x": {"datum": 439, "type": "quantitative", "axis": null}, "y": {"datum": 4.7, "type": "quantitative", "axis": null}, "text": {"value": "minimum for D and"}}},
  {"mark": {"type": "text"}, "encoding": {"x": {"datum": 487, "type": "quantitative", "axis": null}, "y": {"datum": -15.3, "type": "quantitative", "axis": null}, "text": {"value": "maximum for E"}}},
  {"mark": {"type": "text"}, "encoding": {"x": {"datum": 1236, "type": "quantitative", "axis": null}, "y": {"datum": 4.7, "type": "quantitative", "axis": null}, "text": {"value": "1005 ± 40\u00a0 Watauga core"}}},
  {"mark": {"type": "text"}, "encoding": {"x": {"datum": 1326, "type": "quantitative", "axis": null}, "y": {"datum": -16.3, "type": "quantitative", "axis": null}, "text": {"value": "(herb bract or bud)"}}}
 ]},

{"width": 825, "height": 63, "data": {"values": [{}]},
 "layer": [
  {"data": {"name": "curves"}, "transform": [{"filter": "datum.row === 'R5'"}], "encoding": {"x": {"field": "ad", "type": "quantitative", "scale": {"domain": [0, 2000], "nice": false, "zero": false}, "axis": null}, "y": {"field": "p", "type": "quantitative", "stack": null, "scale": {"domain": [-20.3, 42.7], "nice": false, "zero": false}, "axis": null}}, "layer": [
    {"transform": [{"filter": "datum.kind === 'light'"}], "mark": {"type": "area", "fill": "#e4e4e4"}, "encoding": {"y2": {"datum": 0}}},
    {"transform": [{"filter": "datum.kind === 'dark'"}], "mark": {"type": "area", "fill": "#6e6e6e", "stroke": "#111", "strokeWidth": 1.3}, "encoding": {"y2": {"datum": 0}}},
    {"transform": [{"filter": "datum.kind === 'light'"}], "mark": {"type": "line", "stroke": "#444", "strokeWidth": 0.8}}
  ]},
  {"data": {"name": "lines"}, "transform": [{"filter": "datum.row === 'R5'"}], "mark": {"type": "rule", "stroke": "#000", "strokeWidth": 1.5}, "encoding": {"x": {"field": "s", "type": "quantitative", "axis": null}, "x2": {"field": "e"}, "y": {"datum": 0, "type": "quantitative", "axis": null}}},
  {"data": {"name": "brackets"}, "transform": [{"filter": "datum.row === 'R5'"}], "encoding": {"y": {"datum": -14, "type": "quantitative", "axis": null}}, "layer": [
    {"mark": {"type": "rule", "stroke": "#222", "strokeWidth": 1.2}, "encoding": {"x": {"field": "s", "type": "quantitative", "axis": null}, "x2": {"field": "e"}}},
    {"mark": {"type": "rule", "stroke": "#222", "strokeWidth": 1.2}, "encoding": {"x": {"field": "s", "type": "quantitative", "axis": null}, "y2": {"datum": -9}}},
    {"mark": {"type": "rule", "stroke": "#222", "strokeWidth": 1.2}, "encoding": {"x": {"field": "e", "type": "quantitative", "axis": null}, "y2": {"datum": -9}}}
  ]},
  {"mark": {"type": "rect", "fill": "#000", "opacity": 0.21}, "encoding": {"x": {"datum": 898, "type": "quantitative", "axis": null}, "x2": {"datum": 931}}},
  {"mark": {"type": "text"}, "encoding": {"x": {"datum": 482, "type": "quantitative", "axis": null}, "y": {"datum": 0.7, "type": "quantitative", "axis": null}, "text": {"value": "maximum for E"}}},
  {"mark": {"type": "text"}, "encoding": {"x": {"datum": 1251, "type": "quantitative", "axis": null}, "y": {"datum": 5.7, "type": "quantitative", "axis": null}, "text": {"value": "1000 ± 40\u00a0 Snowberry trench"}}},
  {"mark": {"type": "text"}, "encoding": {"x": {"datum": 1338, "type": "quantitative", "axis": null}, "y": {"datum": -15.3, "type": "quantitative", "axis": null}, "text": {"value": "(fragment from bed of charcoal)"}}}
 ]},

{"width": 825, "height": 61, "data": {"values": [{}]},
 "layer": [
  {"data": {"name": "curves"}, "transform": [{"filter": "datum.row === 'R6'"}], "encoding": {"x": {"field": "ad", "type": "quantitative", "scale": {"domain": [0, 2000], "nice": false, "zero": false}, "axis": null}, "y": {"field": "p", "type": "quantitative", "stack": null, "scale": {"domain": [-19.7, 41.3], "nice": false, "zero": false}, "axis": null}}, "layer": [
    {"transform": [{"filter": "datum.kind === 'light'"}], "mark": {"type": "area", "fill": "#e4e4e4"}, "encoding": {"y2": {"datum": 0}}},
    {"transform": [{"filter": "datum.kind === 'dark'"}], "mark": {"type": "area", "fill": "#6e6e6e", "stroke": "#111", "strokeWidth": 1.3}, "encoding": {"y2": {"datum": 0}}},
    {"transform": [{"filter": "datum.kind === 'light'"}], "mark": {"type": "line", "stroke": "#444", "strokeWidth": 0.8}}
  ]},
  {"data": {"name": "lines"}, "transform": [{"filter": "datum.row === 'R6'"}], "mark": {"type": "rule", "stroke": "#000", "strokeWidth": 1.5}, "encoding": {"x": {"field": "s", "type": "quantitative", "axis": null}, "x2": {"field": "e"}, "y": {"datum": 0, "type": "quantitative", "axis": null}}},
  {"data": {"name": "brackets"}, "transform": [{"filter": "datum.row === 'R6'"}], "encoding": {"y": {"datum": -14, "type": "quantitative", "axis": null}}, "layer": [
    {"mark": {"type": "rule", "stroke": "#222", "strokeWidth": 1.2}, "encoding": {"x": {"field": "s", "type": "quantitative", "axis": null}, "x2": {"field": "e"}}},
    {"mark": {"type": "rule", "stroke": "#222", "strokeWidth": 1.2}, "encoding": {"x": {"field": "s", "type": "quantitative", "axis": null}, "y2": {"datum": -9}}},
    {"mark": {"type": "rule", "stroke": "#222", "strokeWidth": 1.2}, "encoding": {"x": {"field": "e", "type": "quantitative", "axis": null}, "y2": {"datum": -9}}}
  ]},
  {"mark": {"type": "rect", "fill": "#000", "opacity": 0.21}, "encoding": {"x": {"datum": 898, "type": "quantitative", "axis": null}, "x2": {"datum": 931}}},
  {"mark": {"type": "text"}, "encoding": {"x": {"datum": 482, "type": "quantitative", "axis": null}, "y": {"datum": -0.7, "type": "quantitative", "axis": null}, "text": {"value": "maximum for E"}}},
  {"mark": {"type": "text"}, "encoding": {"x": {"datum": 1210, "type": "quantitative", "axis": null}, "y": {"datum": 5.3, "type": "quantitative", "axis": null}, "text": {"value": "1025 ± 40\u00a0 Watauga core"}}},
  {"mark": {"type": "text"}, "encoding": {"x": {"datum": 1292, "type": "quantitative", "axis": null}, "y": {"datum": -15.7, "type": "quantitative", "axis": null}, "text": {"value": "(Douglas-fir needles and cedar bract)"}}}
 ]},

{"width": 825, "height": 62, "data": {"values": [{}]},
 "layer": [
  {"data": {"name": "curves"}, "transform": [{"filter": "datum.row === 'R7'"}], "mark": {"type": "area", "fill": "#80cfa0", "stroke": "#16994a", "strokeWidth": 1.2}, "encoding": {"x": {"field": "ad", "type": "quantitative", "scale": {"domain": [0, 2000], "nice": false, "zero": false}, "axis": null}, "y": {"field": "p", "type": "quantitative", "stack": null, "scale": {"domain": [-20, 42], "nice": false, "zero": false}, "axis": null}, "y2": {"datum": 0}}},
  {"data": {"name": "lines"}, "transform": [{"filter": "datum.row === 'R7'"}], "mark": {"type": "rule", "stroke": "#16994a", "strokeWidth": 1.5}, "encoding": {"x": {"field": "s", "type": "quantitative", "axis": null}, "x2": {"field": "e"}, "y": {"datum": 0, "type": "quantitative", "axis": null}}},
  {"data": {"name": "brackets"}, "transform": [{"filter": "datum.row === 'R7'"}], "encoding": {"y": {"datum": -11, "type": "quantitative", "axis": null}}, "layer": [
    {"mark": {"type": "rule", "stroke": "#222", "strokeWidth": 1.2}, "encoding": {"x": {"field": "s", "type": "quantitative", "axis": null}, "x2": {"field": "e"}}},
    {"mark": {"type": "rule", "stroke": "#222", "strokeWidth": 1.2}, "encoding": {"x": {"field": "s", "type": "quantitative", "axis": null}, "y2": {"datum": -6}}},
    {"mark": {"type": "rule", "stroke": "#222", "strokeWidth": 1.2}, "encoding": {"x": {"field": "e", "type": "quantitative", "axis": null}, "y2": {"datum": -6}}}
  ]},
  {"mark": {"type": "rect", "fill": "#000", "opacity": 0.21}, "encoding": {"x": {"datum": 898, "type": "quantitative", "axis": null}, "x2": {"datum": 931}}},
  {"mark": {"type": "text", "fontWeight": "bold"}, "encoding": {"x": {"datum": 1195, "type": "quantitative", "axis": null}, "y": {"datum": 7, "type": "quantitative", "axis": null}, "text": {"value": "earthquake D\u00a0\u00a0 1040–910 cal yr B.P."}}}
 ]},

{"width": 825, "height": 62, "data": {"values": [{}]},
 "layer": [
  {"data": {"name": "curves"}, "transform": [{"filter": "datum.row === 'R8'"}], "encoding": {"x": {"field": "ad", "type": "quantitative", "scale": {"domain": [0, 2000], "nice": false, "zero": false}, "axis": null}, "y": {"field": "p", "type": "quantitative", "stack": null, "scale": {"domain": [-19.7, 42.3], "nice": false, "zero": false}, "axis": null}}, "layer": [
    {"transform": [{"filter": "datum.kind === 'light'"}], "mark": {"type": "area", "fill": "#e4e4e4"}, "encoding": {"y2": {"datum": 0}}},
    {"transform": [{"filter": "datum.kind === 'dark'"}], "mark": {"type": "area", "fill": "#6e6e6e", "stroke": "#111", "strokeWidth": 1.3}, "encoding": {"y2": {"datum": 0}}},
    {"transform": [{"filter": "datum.kind === 'light'"}], "mark": {"type": "line", "stroke": "#444", "strokeWidth": 0.8}}
  ]},
  {"data": {"name": "lines"}, "transform": [{"filter": "datum.row === 'R8'"}], "mark": {"type": "rule", "stroke": "#000", "strokeWidth": 1.5}, "encoding": {"x": {"field": "s", "type": "quantitative", "axis": null}, "x2": {"field": "e"}, "y": {"datum": 0, "type": "quantitative", "axis": null}}},
  {"data": {"name": "brackets"}, "transform": [{"filter": "datum.row === 'R8'"}], "encoding": {"y": {"datum": -14, "type": "quantitative", "axis": null}}, "layer": [
    {"mark": {"type": "rule", "stroke": "#222", "strokeWidth": 1.2}, "encoding": {"x": {"field": "s", "type": "quantitative", "axis": null}, "x2": {"field": "e"}}},
    {"mark": {"type": "rule", "stroke": "#222", "strokeWidth": 1.2}, "encoding": {"x": {"field": "s", "type": "quantitative", "axis": null}, "y2": {"datum": -9}}},
    {"mark": {"type": "rule", "stroke": "#222", "strokeWidth": 1.2}, "encoding": {"x": {"field": "e", "type": "quantitative", "axis": null}, "y2": {"datum": -9}}}
  ]},
  {"mark": {"type": "rect", "fill": "#000", "opacity": 0.21}, "encoding": {"x": {"datum": 898, "type": "quantitative", "axis": null}, "x2": {"datum": 931}}},
  {"mark": {"type": "rule", "stroke": "#000", "strokeWidth": 1.5}, "encoding": {"x": {"datum": 637.6, "type": "quantitative", "axis": null}, "y": {"datum": 34, "type": "quantitative", "axis": null}, "y2": {"datum": -19.7}}},
  {"mark": {"type": "rule", "stroke": "#000", "strokeWidth": 1.5}, "encoding": {"x": {"datum": 637.6, "type": "quantitative", "axis": null}, "x2": {"datum": 664}, "y": {"datum": 34, "type": "quantitative", "axis": null}}},
  {"mark": {"type": "text"}, "encoding": {"x": {"datum": 1091, "type": "quantitative", "axis": null}, "y": {"datum": 4.3, "type": "quantitative", "axis": null}, "text": {"value": "1060 ± 30\u00a0 Crane Lake trench"}}},
  {"mark": {"type": "text"}, "encoding": {"x": {"datum": 1176, "type": "quantitative", "axis": null}, "y": {"datum": -15.7, "type": "quantitative", "axis": null}, "text": {"value": "(sticks of charcoal)"}}}
 ]},

{"width": 825, "height": 63, "data": {"values": [{}]},
 "layer": [
  {"data": {"name": "curves"}, "transform": [{"filter": "datum.row === 'R9'"}], "encoding": {"x": {"field": "ad", "type": "quantitative", "scale": {"domain": [0, 2000], "nice": false, "zero": false}, "axis": null}, "y": {"field": "p", "type": "quantitative", "stack": null, "scale": {"domain": [-20, 43], "nice": false, "zero": false}, "axis": null}}, "layer": [
    {"transform": [{"filter": "datum.kind === 'light'"}], "mark": {"type": "area", "fill": "#e4e4e4"}, "encoding": {"y2": {"datum": 0}}},
    {"transform": [{"filter": "datum.kind === 'dark'"}], "mark": {"type": "area", "fill": "#6e6e6e", "stroke": "#111", "strokeWidth": 1.3}, "encoding": {"y2": {"datum": 0}}},
    {"transform": [{"filter": "datum.kind === 'light'"}], "mark": {"type": "line", "stroke": "#444", "strokeWidth": 0.8}}
  ]},
  {"data": {"name": "lines"}, "transform": [{"filter": "datum.row === 'R9'"}], "mark": {"type": "rule", "stroke": "#000", "strokeWidth": 1.5}, "encoding": {"x": {"field": "s", "type": "quantitative", "axis": null}, "x2": {"field": "e"}, "y": {"datum": 0, "type": "quantitative", "axis": null}}},
  {"data": {"name": "brackets"}, "transform": [{"filter": "datum.row === 'R9'"}], "encoding": {"y": {"datum": -14, "type": "quantitative", "axis": null}}, "layer": [
    {"mark": {"type": "rule", "stroke": "#222", "strokeWidth": 1.2}, "encoding": {"x": {"field": "s", "type": "quantitative", "axis": null}, "x2": {"field": "e"}}},
    {"mark": {"type": "rule", "stroke": "#222", "strokeWidth": 1.2}, "encoding": {"x": {"field": "s", "type": "quantitative", "axis": null}, "y2": {"datum": -9}}},
    {"mark": {"type": "rule", "stroke": "#222", "strokeWidth": 1.2}, "encoding": {"x": {"field": "e", "type": "quantitative", "axis": null}, "y2": {"datum": -9}}}
  ]},
  {"mark": {"type": "rect", "fill": "#000", "opacity": 0.21}, "encoding": {"x": {"datum": 898, "type": "quantitative", "axis": null}, "x2": {"datum": 931}}},
  {"mark": {"type": "rule", "stroke": "#000", "strokeWidth": 1.5}, "encoding": {"x": {"datum": 637.6, "type": "quantitative", "axis": null}}},
  {"mark": {"type": "text"}, "encoding": {"x": {"datum": 1217, "type": "quantitative", "axis": null}, "y": {"datum": 5, "type": "quantitative", "axis": null}, "text": {"value": "1081 ± 66\u00a0 Winslow marsh"}}},
  {"mark": {"type": "text"}, "encoding": {"x": {"datum": 1307, "type": "quantitative", "axis": null}, "y": {"datum": -16, "type": "quantitative", "axis": null}, "text": {"value": "(wood in peat)"}}}
 ]},

{"width": 825, "height": 61, "data": {"values": [{}]},
 "layer": [
  {"data": {"name": "curves"}, "transform": [{"filter": "datum.row === 'R10'"}], "encoding": {"x": {"field": "ad", "type": "quantitative", "scale": {"domain": [0, 2000], "nice": false, "zero": false}, "axis": null}, "y": {"field": "p", "type": "quantitative", "stack": null, "scale": {"domain": [-20, 41], "nice": false, "zero": false}, "axis": null}}, "layer": [
    {"transform": [{"filter": "datum.kind === 'light'"}], "mark": {"type": "area", "fill": "#e4e4e4"}, "encoding": {"y2": {"datum": 0}}},
    {"transform": [{"filter": "datum.kind === 'dark'"}], "mark": {"type": "area", "fill": "#6e6e6e", "stroke": "#111", "strokeWidth": 1.3}, "encoding": {"y2": {"datum": 0}}},
    {"transform": [{"filter": "datum.kind === 'light'"}], "mark": {"type": "line", "stroke": "#444", "strokeWidth": 0.8}}
  ]},
  {"data": {"name": "lines"}, "transform": [{"filter": "datum.row === 'R10'"}], "mark": {"type": "rule", "stroke": "#000", "strokeWidth": 1.5}, "encoding": {"x": {"field": "s", "type": "quantitative", "axis": null}, "x2": {"field": "e"}, "y": {"datum": 0, "type": "quantitative", "axis": null}}},
  {"data": {"name": "brackets"}, "transform": [{"filter": "datum.row === 'R10'"}], "encoding": {"y": {"datum": -14, "type": "quantitative", "axis": null}}, "layer": [
    {"mark": {"type": "rule", "stroke": "#222", "strokeWidth": 1.2}, "encoding": {"x": {"field": "s", "type": "quantitative", "axis": null}, "x2": {"field": "e"}}},
    {"mark": {"type": "rule", "stroke": "#222", "strokeWidth": 1.2}, "encoding": {"x": {"field": "s", "type": "quantitative", "axis": null}, "y2": {"datum": -9}}},
    {"mark": {"type": "rule", "stroke": "#222", "strokeWidth": 1.2}, "encoding": {"x": {"field": "e", "type": "quantitative", "axis": null}, "y2": {"datum": -9}}}
  ]},
  {"mark": {"type": "rect", "fill": "#000", "opacity": 0.21}, "encoding": {"x": {"datum": 898, "type": "quantitative", "axis": null}, "x2": {"datum": 931}}},
  {"mark": {"type": "rule", "stroke": "#000", "strokeWidth": 1.5}, "encoding": {"x": {"datum": 637.6, "type": "quantitative", "axis": null}}},
  {"mark": {"type": "text"}, "encoding": {"x": {"datum": 1062, "type": "quantitative", "axis": null}, "y": {"datum": 4, "type": "quantitative", "axis": null}, "text": {"value": "1100 ± 25\u00a0 Gorst wetland"}}},
  {"mark": {"type": "text"}, "encoding": {"x": {"datum": 1142, "type": "quantitative", "axis": null}, "y": {"datum": -17, "type": "quantitative", "axis": null}, "text": {"value": "(deciduous leaf)"}}}
 ]},

{"width": 825, "height": 62, "data": {"values": [{}]},
 "layer": [
  {"data": {"name": "curves"}, "transform": [{"filter": "datum.row === 'R11'"}], "encoding": {"x": {"field": "ad", "type": "quantitative", "scale": {"domain": [0, 2000], "nice": false, "zero": false}, "axis": null}, "y": {"field": "p", "type": "quantitative", "stack": null, "scale": {"domain": [-20.3, 41.7], "nice": false, "zero": false}, "axis": null}}, "layer": [
    {"transform": [{"filter": "datum.kind === 'light'"}], "mark": {"type": "area", "fill": "#e4e4e4"}, "encoding": {"y2": {"datum": 0}}},
    {"transform": [{"filter": "datum.kind === 'dark'"}], "mark": {"type": "area", "fill": "#6e6e6e", "stroke": "#111", "strokeWidth": 1.3}, "encoding": {"y2": {"datum": 0}}},
    {"transform": [{"filter": "datum.kind === 'light'"}], "mark": {"type": "line", "stroke": "#444", "strokeWidth": 0.8}}
  ]},
  {"data": {"name": "lines"}, "transform": [{"filter": "datum.row === 'R11'"}], "mark": {"type": "rule", "stroke": "#000", "strokeWidth": 1.5}, "encoding": {"x": {"field": "s", "type": "quantitative", "axis": null}, "x2": {"field": "e"}, "y": {"datum": 0, "type": "quantitative", "axis": null}}},
  {"data": {"name": "brackets"}, "transform": [{"filter": "datum.row === 'R11'"}], "encoding": {"y": {"datum": -14, "type": "quantitative", "axis": null}}, "layer": [
    {"mark": {"type": "rule", "stroke": "#222", "strokeWidth": 1.2}, "encoding": {"x": {"field": "s", "type": "quantitative", "axis": null}, "x2": {"field": "e"}}},
    {"mark": {"type": "rule", "stroke": "#222", "strokeWidth": 1.2}, "encoding": {"x": {"field": "s", "type": "quantitative", "axis": null}, "y2": {"datum": -9}}},
    {"mark": {"type": "rule", "stroke": "#222", "strokeWidth": 1.2}, "encoding": {"x": {"field": "e", "type": "quantitative", "axis": null}, "y2": {"datum": -9}}}
  ]},
  {"mark": {"type": "rect", "fill": "#000", "opacity": 0.21}, "encoding": {"x": {"datum": 898, "type": "quantitative", "axis": null}, "x2": {"datum": 931}}},
  {"mark": {"type": "rule", "stroke": "#000", "strokeWidth": 1.5}, "encoding": {"x": {"datum": 637.6, "type": "quantitative", "axis": null}}},
  {"mark": {"type": "text", "align": "center"}, "encoding": {"x": {"datum": 414.5, "type": "quantitative", "axis": null}, "y": {"datum": 16, "type": "quantitative", "axis": null}, "text": {"value": "maximum ages for"}}},
  {"mark": {"type": "text", "align": "center"}, "encoding": {"x": {"datum": 414.5, "type": "quantitative", "axis": null}, "y": {"datum": -4, "type": "quantitative", "axis": null}, "text": {"value": "earthquake D"}}},
  {"mark": {"type": "text"}, "encoding": {"x": {"datum": 1071.5, "type": "quantitative", "axis": null}, "y": {"datum": 3.7, "type": "quantitative", "axis": null}, "text": {"value": "1117 ± 26\u00a0 Snowberry trench"}}},
  {"mark": {"type": "text"}, "encoding": {"x": {"datum": 1156, "type": "quantitative", "axis": null}, "y": {"datum": -17.3, "type": "quantitative", "axis": null}, "text": {"value": "(fragment from bed of charcoal)"}}}
 ]},

{"width": 825, "height": 61, "data": {"values": [{}]},
 "layer": [
  {"data": {"name": "curves"}, "transform": [{"filter": "datum.row === 'R12'"}], "encoding": {"x": {"field": "ad", "type": "quantitative", "scale": {"domain": [0, 2000], "nice": false, "zero": false}, "axis": null}, "y": {"field": "p", "type": "quantitative", "stack": null, "scale": {"domain": [-19.7, 41.3], "nice": false, "zero": false}, "axis": null}}, "layer": [
    {"transform": [{"filter": "datum.kind === 'light'"}], "mark": {"type": "area", "fill": "#e4e4e4"}, "encoding": {"y2": {"datum": 0}}},
    {"transform": [{"filter": "datum.kind === 'dark'"}], "mark": {"type": "area", "fill": "#6e6e6e", "stroke": "#111", "strokeWidth": 1.3}, "encoding": {"y2": {"datum": 0}}},
    {"transform": [{"filter": "datum.kind === 'light'"}], "mark": {"type": "line", "stroke": "#444", "strokeWidth": 0.8}}
  ]},
  {"data": {"name": "lines"}, "transform": [{"filter": "datum.row === 'R12'"}], "mark": {"type": "rule", "stroke": "#000", "strokeWidth": 1.5}, "encoding": {"x": {"field": "s", "type": "quantitative", "axis": null}, "x2": {"field": "e"}, "y": {"datum": 0, "type": "quantitative", "axis": null}}},
  {"data": {"name": "brackets"}, "transform": [{"filter": "datum.row === 'R12'"}], "encoding": {"y": {"datum": -14, "type": "quantitative", "axis": null}}, "layer": [
    {"mark": {"type": "rule", "stroke": "#222", "strokeWidth": 1.2}, "encoding": {"x": {"field": "s", "type": "quantitative", "axis": null}, "x2": {"field": "e"}}},
    {"mark": {"type": "rule", "stroke": "#222", "strokeWidth": 1.2}, "encoding": {"x": {"field": "s", "type": "quantitative", "axis": null}, "y2": {"datum": -9}}},
    {"mark": {"type": "rule", "stroke": "#222", "strokeWidth": 1.2}, "encoding": {"x": {"field": "e", "type": "quantitative", "axis": null}, "y2": {"datum": -9}}}
  ]},
  {"mark": {"type": "rect", "fill": "#000", "opacity": 0.21}, "encoding": {"x": {"datum": 898, "type": "quantitative", "axis": null}, "x2": {"datum": 931}}},
  {"mark": {"type": "rule", "stroke": "#000", "strokeWidth": 1.5}, "encoding": {"x": {"datum": 637.6, "type": "quantitative", "axis": null}}},
  {"mark": {"type": "text"}, "encoding": {"x": {"datum": 1062, "type": "quantitative", "axis": null}, "y": {"datum": 3.3, "type": "quantitative", "axis": null}, "text": {"value": "1150 ± 30\u00a0 Watauga core"}}},
  {"mark": {"type": "text"}, "encoding": {"x": {"datum": 1144, "type": "quantitative", "axis": null}, "y": {"datum": -16.7, "type": "quantitative", "axis": null}, "text": {"value": "(twig with bark and petioles)"}}}
 ]},

{"width": 825, "height": 63, "data": {"values": [{}]},
 "layer": [
  {"data": {"name": "curves"}, "transform": [{"filter": "datum.row === 'R13'"}], "encoding": {"x": {"field": "ad", "type": "quantitative", "scale": {"domain": [0, 2000], "nice": false, "zero": false}, "axis": null}, "y": {"field": "p", "type": "quantitative", "stack": null, "scale": {"domain": [-20.3, 42.7], "nice": false, "zero": false}, "axis": null}}, "layer": [
    {"transform": [{"filter": "datum.kind === 'light'"}], "mark": {"type": "area", "fill": "#e4e4e4"}, "encoding": {"y2": {"datum": 0}}},
    {"transform": [{"filter": "datum.kind === 'dark'"}], "mark": {"type": "area", "fill": "#6e6e6e", "stroke": "#111", "strokeWidth": 1.3}, "encoding": {"y2": {"datum": 0}}},
    {"transform": [{"filter": "datum.kind === 'light'"}], "mark": {"type": "line", "stroke": "#444", "strokeWidth": 0.8}}
  ]},
  {"data": {"name": "lines"}, "transform": [{"filter": "datum.row === 'R13'"}], "mark": {"type": "rule", "stroke": "#000", "strokeWidth": 1.5}, "encoding": {"x": {"field": "s", "type": "quantitative", "axis": null}, "x2": {"field": "e"}, "y": {"datum": 0, "type": "quantitative", "axis": null}}},
  {"data": {"name": "brackets"}, "transform": [{"filter": "datum.row === 'R13'"}], "encoding": {"y": {"datum": -14, "type": "quantitative", "axis": null}}, "layer": [
    {"mark": {"type": "rule", "stroke": "#222", "strokeWidth": 1.2}, "encoding": {"x": {"field": "s", "type": "quantitative", "axis": null}, "x2": {"field": "e"}}},
    {"mark": {"type": "rule", "stroke": "#222", "strokeWidth": 1.2}, "encoding": {"x": {"field": "s", "type": "quantitative", "axis": null}, "y2": {"datum": -9}}},
    {"mark": {"type": "rule", "stroke": "#222", "strokeWidth": 1.2}, "encoding": {"x": {"field": "e", "type": "quantitative", "axis": null}, "y2": {"datum": -9}}}
  ]},
  {"mark": {"type": "rect", "fill": "#000", "opacity": 0.21}, "encoding": {"x": {"datum": 898, "type": "quantitative", "axis": null}, "x2": {"datum": 931}}},
  {"mark": {"type": "rule", "stroke": "#000", "strokeWidth": 1.5}, "encoding": {"x": {"datum": 637.6, "type": "quantitative", "axis": null}}},
  {"mark": {"type": "text"}, "encoding": {"x": {"datum": 1076, "type": "quantitative", "axis": null}, "y": {"datum": 4.7, "type": "quantitative", "axis": null}, "text": {"value": "1160 ± 50\u00a0 Bear’s Lair trench"}}},
  {"mark": {"type": "text"}, "encoding": {"x": {"datum": 1159, "type": "quantitative", "axis": null}, "y": {"datum": -15.3, "type": "quantitative", "axis": null}, "text": {"value": "(cedar needle)"}}}
 ]},

{"width": 825, "height": 81, "resolve": {"scale": {"x": "independent"}},
 "layer": [
  {"data": {"values": [{}]}, "layer": [
  {"data": {"name": "curves"}, "transform": [{"filter": "datum.row === 'R14'"}], "encoding": {"x": {"field": "ad", "type": "quantitative", "scale": {"domain": [0, 2000], "nice": false, "zero": false}, "axis": null}, "y": {"field": "p", "type": "quantitative", "stack": null, "scale": {"domain": [-39, 42], "nice": false, "zero": false}, "axis": null}}, "layer": [
    {"transform": [{"filter": "datum.kind === 'light'"}], "mark": {"type": "area", "fill": "#e4e4e4"}, "encoding": {"y2": {"datum": 0}}},
    {"transform": [{"filter": "datum.kind === 'dark'"}], "mark": {"type": "area", "fill": "#6e6e6e", "stroke": "#111", "strokeWidth": 1.3}, "encoding": {"y2": {"datum": 0}}},
    {"transform": [{"filter": "datum.kind === 'light'"}], "mark": {"type": "line", "stroke": "#444", "strokeWidth": 0.8}}
  ]},
  {"data": {"name": "lines"}, "transform": [{"filter": "datum.row === 'R14'"}], "mark": {"type": "rule", "stroke": "#000", "strokeWidth": 1.5}, "encoding": {"x": {"field": "s", "type": "quantitative", "axis": null}, "x2": {"field": "e"}, "y": {"datum": 0, "type": "quantitative", "axis": null}}},
  {"data": {"name": "brackets"}, "transform": [{"filter": "datum.row === 'R14'"}], "encoding": {"y": {"datum": -14, "type": "quantitative", "axis": null}}, "layer": [
    {"mark": {"type": "rule", "stroke": "#222", "strokeWidth": 1.2}, "encoding": {"x": {"field": "s", "type": "quantitative", "axis": null}, "x2": {"field": "e"}}},
    {"mark": {"type": "rule", "stroke": "#222", "strokeWidth": 1.2}, "encoding": {"x": {"field": "s", "type": "quantitative", "axis": null}, "y2": {"datum": -9}}},
    {"mark": {"type": "rule", "stroke": "#222", "strokeWidth": 1.2}, "encoding": {"x": {"field": "e", "type": "quantitative", "axis": null}, "y2": {"datum": -9}}}
  ]},
  {"mark": {"type": "rect", "fill": "#000", "opacity": 0.21}, "encoding": {"x": {"datum": 898, "type": "quantitative", "axis": null}, "x2": {"datum": 931}}},
  {"mark": {"type": "rule", "stroke": "#000", "strokeWidth": 1.5}, "encoding": {"x": {"datum": 637.6, "type": "quantitative", "axis": null}, "y": {"datum": -23, "type": "quantitative", "axis": null}, "y2": {"datum": 42}}},
  {"mark": {"type": "rule", "stroke": "#000", "strokeWidth": 1.5}, "encoding": {"x": {"datum": 637.6, "type": "quantitative", "axis": null}, "x2": {"datum": 664}, "y": {"datum": -23, "type": "quantitative", "axis": null}}},
  {"mark": {"type": "text"}, "encoding": {"x": {"datum": 1038, "type": "quantitative", "axis": null}, "y": {"datum": 6, "type": "quantitative", "axis": null}, "text": {"value": "1181 ± 26\u00a0 Nettle Grove trench"}}},
  {"mark": {"type": "text"}, "encoding": {"x": {"datum": 1125, "type": "quantitative", "axis": null}, "y": {"datum": -16, "type": "quantitative", "axis": null}, "text": {"value": "(charcoal fragment)"}}}
  ]},
  {"data": {"values": [{}]}, "mark": {"type": "rule", "opacity": 0}, "encoding": {"x": {"datum": 1000, "type": "quantitative", "scale": {"domain": [0, 2000], "nice": false, "zero": false}, "axis": {"orient": "bottom", "title": "yr A.D.", "values": [0,20,40,60,80,100,120,140,160,180,200,220,240,260,280,300,320,340,360,380,400,420,440,460,480,500,520,540,560,580,600,620,640,660,680,700,720,740,760,780,800,820,840,860,880,900,920,940,960,980,1000,1020,1040,1060,1080,1100,1120,1140,1160,1180,1200,1220,1240,1260,1280,1300,1320,1340,1360,1380,1400,1420,1440,1460,1480,1500,1520,1540,1560,1580,1600,1620,1640,1660,1680,1700,1720,1740,1760,1780,1800,1820,1840,1860,1880,1900,1920,1940,1960,1980,2000], "format": "d", "labelExpr": "datum.value % 500 === 0 ? datum.label : ''", "labelOverlap": false, "labelFlush": false, "labelFont": "Liberation Sans", "labelFontSize": 16, "labelColor": "#000", "labelPadding": 9, "titleFont": "Liberation Sans", "titleFontSize": 16, "titleFontWeight": "normal", "titleColor": "#000", "titlePadding": 4, "domainColor": "#000", "tickColor": "#000", "tickWidth": 1, "tickSize": {"condition": [{"test": "datum.value % 500 === 0", "value": 13}, {"test": "datum.value % 100 === 0", "value": 9}], "value": 5}, "grid": false}}}}
 ]}
]
}
